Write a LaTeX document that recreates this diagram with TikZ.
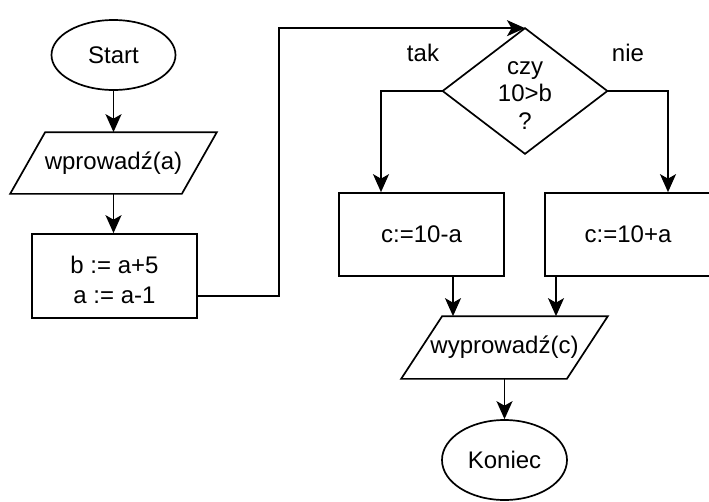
\documentclass[tikz,border=0pt]{standalone}
\usepackage{fontspec}
\setmainfont{Liberation Sans}
\usetikzlibrary{shapes.geometric,arrows.meta}
\begin{document}
\begin{tikzpicture}[x=1pt,y=-1pt,
  font=\fontsize{24}{28}\selectfont,
  line width=1.7pt,
  arr/.style={-{Stealth[length=18pt,width=16pt,inset=4.5pt]}},
  term/.style={ellipse,draw,inner sep=0pt},
  procbox/.style={rectangle,draw,inner sep=0pt,align=center},
  txtbox/.style={rectangle,inner sep=0pt,align=center},
  para/.style={draw}
]
\useasboundingbox (0,0) rectangle (709,501);

% nodes
\node[term,minimum width=124pt,minimum height=70pt] (start) at (113.5,55) {Start};
\node[txtbox,minimum width=170pt,minimum height=60pt] (in1) at (113.5,163) {wprowadź(a)};
\node[procbox,minimum width=165pt,minimum height=84pt] (b) at (114.5,276) {};
\node[txtbox,font=\fontsize{24}{30}\selectfont] (btxt) at (114.5,280) {b := a+5\\a := a-1};
\node[txtbox,minimum width=163pt,minimum height=124pt] (d) at (525,91) {};
\node[txtbox,font=\fontsize{24}{27.5}\selectfont] (dtxt) at (525,95.5) {czy\\10>b\\?};
\node[procbox,minimum width=165pt,minimum height=83pt] (c1) at (421.5,234.5) {c:=10-a};
\node[procbox,minimum width=166pt,minimum height=83pt] (c2) at (628,234.5) {c:=10+a};
\node[txtbox,minimum width=164pt,minimum height=61pt] (out) at (504.5,347.5) {wyprowadź(c)};
\node[term,minimum width=125pt,minimum height=80pt] (end) at (504.5,460) {Koniec};
\node[txtbox] (tak) at (423,53) {tak};
\node[txtbox] (nie) at (628,53) {nie};

% shapes drawn around text nodes
\draw[para] ([xshift=17.5pt]in1.north west) -- ([xshift=17.5pt]in1.north east)
  -- ([xshift=-17.5pt]in1.south east) -- ([xshift=-17.5pt]in1.south west) -- cycle;
\draw[para] ([xshift=20.5pt]out.north west) -- ([xshift=20.5pt]out.north east)
  -- ([xshift=-20.5pt]out.south east) -- ([xshift=-20.5pt]out.south west) -- cycle;
\draw (d.north) -- (d.east) -- (d.south) -- (d.west) -- cycle;

% connectors
\draw[arr] (start.south) -- (in1.north);
\draw[arr] (in1.south) -- (in1.south |- b.north);
\coordinate (bout) at ([yshift=-20pt]b.east);
\draw[arr] (bout) -- ++(81pt,0pt) |- (d.north);
\coordinate (c1in) at ([xshift=-40.5pt]c1.north);
\coordinate (c2in) at ([xshift=40pt]c2.north);
\draw[arr] (d.west) -| (c1in);
\draw[arr] (d.east) -| (c2in);
\coordinate (c1o) at ([xshift=31.5pt]c1.south);
\coordinate (c2o) at ([xshift=-72pt]c2.south);
\draw[arr] (c1o) -- (c1o |- out.north);
\draw[arr] (c2o) -- (c2o |- out.north);
\draw[arr] (out.south) -- (end.north);
\end{tikzpicture}
\end{document}
